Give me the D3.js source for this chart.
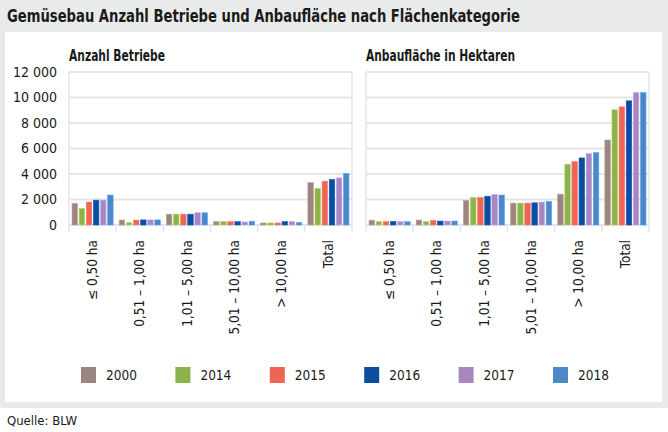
<!DOCTYPE html>
<html>
<head>
<meta charset="utf-8">
<script src="https://cdn.jsdelivr.net/npm/d3@7"></script>
<style>
  body { margin: 0; background: #fff; }
  svg { display: block; font-family: "DejaVu Sans Condensed", "DejaVu Sans", sans-serif; }
</style>
</head>
<body>
<svg id="chart" width="668" height="432"></svg>
<script>
// categories and years
const categories = ['≤ 0,50 ha', '0,51 – 1,00 ha', '1,01 – 5,00 ha', '5,01 – 10,00 ha', '> 10,00 ha', 'Total'];
const years = ['2000', '2014', '2015', '2016', '2017', '2018'];
const colors = ['#9c8581', '#8db24b', '#ee6455', '#0b4d9f', '#a687c0', '#4b88c7'];

// Anzahl Betriebe, one row per category, one value per year
const betriebe = [
  [1700, 1300, 1800, 1950, 1950, 2350],
  [390, 180, 380, 400, 400, 400],
  [850, 850, 850, 850, 960, 960],
  [260, 260, 260, 260, 240, 300],
  [160, 160, 160, 260, 260, 200],
  [3330, 2870, 3440, 3570, 3700, 4050]
];

// Anbaufläche in Hektaren
const flaeche = [
  [380, 270, 260, 280, 260, 260],
  [390, 260, 360, 310, 310, 310],
  [1930, 2160, 2160, 2260, 2400, 2350],
  [1720, 1720, 1720, 1740, 1800, 1850],
  [2420, 4770, 4980, 5260, 5600, 5680],
  [6670, 9040, 9270, 9740, 10390, 10390]
];

const yTicks = [0, 2000, 4000, 6000, 8000, 10000, 12000];

const svg = d3.select('#chart');
const W = 668;

// frame
svg.append('rect').attr('x', 0).attr('y', 0).attr('width', W).attr('height', 408).attr('fill', '#e9ebea');
svg.append('rect').attr('x', 5).attr('y', 32).attr('width', 657).attr('height', 370).attr('fill', '#fff');

svg.append('text')
  .attr('x', 7).attr('y', 22)
  .attr('font-size', 17).attr('font-weight', 'bold').attr('fill', '#1a1a1a')
  .attr('textLength', 513).attr('lengthAdjust', 'spacingAndGlyphs')
  .text('Gemüsebau Anzahl Betriebe und Anbaufläche nach Flächenkategorie');

svg.append('text')
  .attr('x', 7).attr('y', 425)
  .attr('font-size', 13).attr('fill', '#1a1a1a')
  .text('Quelle: BLW');

const y = d3.scaleLinear().domain([0, 12000]).range([225, 72]);
const fmt = d3.formatLocale({ decimal: ',', thousands: ' ', grouping: [3], currency: ['', ''] }).format(',');

function drawPanel(x0, x1, title, titleLen, data, showAxis) {
  const g = svg.append('g');
  const x = d3.scaleBand().domain(categories).range([x0, x1]);
  const xi = d3.scaleBand().domain(years).range([3, x.bandwidth() - 3]).paddingInner(0.22);

  g.append('text')
    .attr('x', x0).attr('y', 61)
    .attr('font-size', 15).attr('font-weight', 'bold').attr('fill', '#1a1a1a')
    .attr('textLength', titleLen).attr('lengthAdjust', 'spacingAndGlyphs')
    .text(title);

  // grid
  g.selectAll('line.grid')
    .data(yTicks)
    .enter().append('line')
    .attr('class', 'grid')
    .attr('x1', x0).attr('x2', x1)
    .attr('y1', d => y(d)).attr('y2', d => y(d))
    .attr('stroke', '#e4e5e5').attr('stroke-width', 2);

  // side lines
  g.selectAll('line.side')
    .data([x0, x1])
    .enter().append('line')
    .attr('class', 'side')
    .attr('x1', d => d).attr('x2', d => d)
    .attr('y1', y(12000)).attr('y2', y(0) + 7)
    .attr('stroke', '#e4e5e5').attr('stroke-width', 1.5);

  // boundary ticks
  g.selectAll('line.tick')
    .data(categories.slice(1))
    .enter().append('line')
    .attr('class', 'tick')
    .attr('x1', d => x(d)).attr('x2', d => x(d))
    .attr('y1', y(0)).attr('y2', y(0) + 7)
    .attr('stroke', '#e4e5e5').attr('stroke-width', 1.5);

  if (showAxis) {
    g.selectAll('text.ylab')
      .data(yTicks)
      .enter().append('text')
      .attr('class', 'ylab')
      .attr('x', x0 - 12).attr('y', d => y(d))
      .attr('dy', '0.35em')
      .attr('text-anchor', 'end')
      .attr('font-size', 14).attr('fill', '#1a1a1a')
      .text(d => fmt(d));
  }

  const groups = g.selectAll('g.group')
    .data(categories)
    .enter().append('g')
    .attr('class', 'group')
    .attr('transform', d => 'translate(' + x(d) + ',0)');

  groups.selectAll('rect')
    .data((d, i) => data[i].map((v, j) => ({ year: years[j], value: v, c: colors[j] })))
    .enter().append('rect')
    .attr('x', d => xi(d.year))
    .attr('width', xi.bandwidth())
    .attr('y', d => y(d.value))
    .attr('height', d => y(0) - y(d.value))
    .attr('fill', d => d.c)
    .attr('stroke', d => d3.color(d.c).brighter(0.6))
    .attr('stroke-width', 0.6);

  // rotated labels
  g.selectAll('text.xlab')
    .data(categories)
    .enter().append('text')
    .attr('class', 'xlab')
    .attr('transform', d => 'translate(' + (x(d) + x.bandwidth() / 2) + ',' + 240 + ') rotate(-90)')
    .attr('dy', '0.35em')
    .attr('text-anchor', 'end')
    .attr('font-size', 13.5).attr('fill', '#1a1a1a')
    .text(d => d);
}

drawPanel(69, 352, 'Anzahl Betriebe', 96, betriebe, true);
drawPanel(366, 649, 'Anbaufläche in Hektaren', 149, flaeche, false);

// legend
const lx = d3.scalePoint().domain(years).range([81, 553]);
const legend = svg.selectAll('g.legend')
  .data(years)
  .enter().append('g')
  .attr('class', 'legend')
  .attr('transform', d => 'translate(' + lx(d) + ',367)');

legend.append('rect')
  .attr('width', 15).attr('height', 16)
  .attr('fill', (d, i) => colors[i]);

legend.append('text')
  .attr('x', 25).attr('y', 8).attr('dy', '0.35em')
  .attr('font-size', 13.5).attr('fill', '#1a1a1a')
  .text(d => d);
</script>
</body>
</html>
